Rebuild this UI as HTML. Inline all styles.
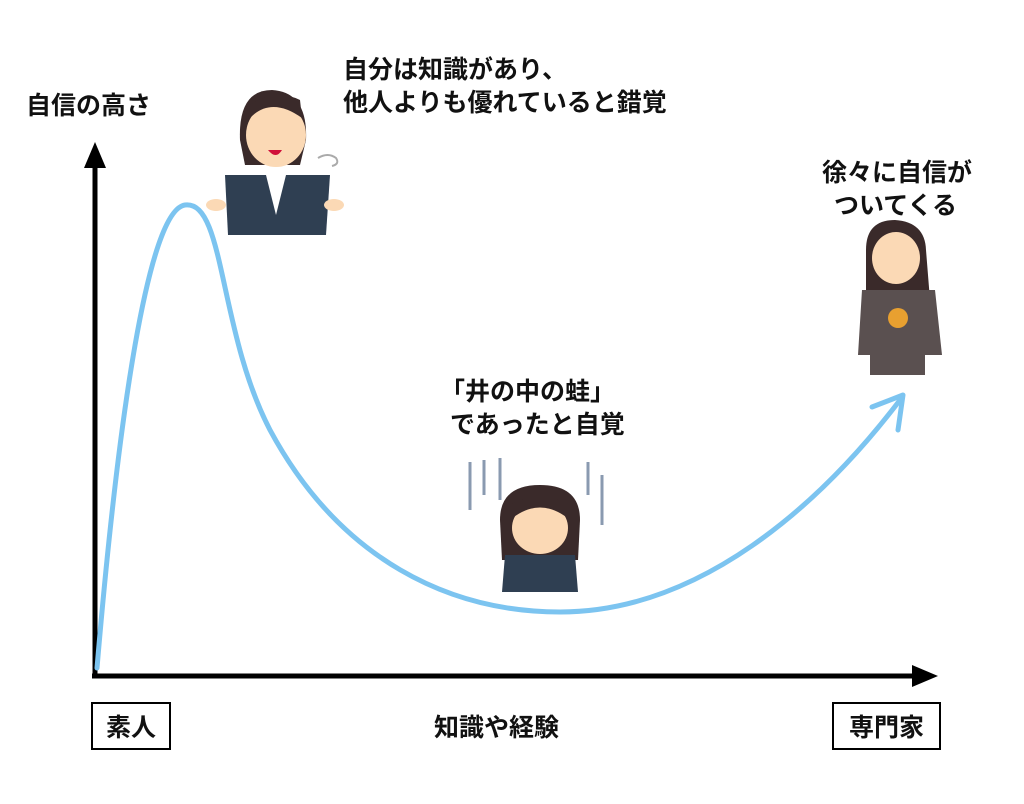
<!DOCTYPE html>
<html><head><meta charset="utf-8"><style>
body{margin:0;background:#fff;}
svg text{font-family:"Liberation Sans","Noto Sans CJK JP",sans-serif;font-weight:bold;fill:#111;}
</style></head><body>
<svg width="1024" height="799" viewBox="0 0 1024 799" xmlns="http://www.w3.org/2000/svg">
<rect width="1024" height="799" fill="#fff"/>
<line x1="95" y1="676" x2="95" y2="160" stroke="#000" stroke-width="5"/>
<polygon points="95,142 84,168 106,168" fill="#000"/>
<line x1="92" y1="676" x2="918" y2="676" stroke="#000" stroke-width="5"/>
<polygon points="938,676 912,665 912,687" fill="#000"/>
<path d="M97,668 C118,420 148,210 185,205 C225,200 218,330 270,430 C340,560 450,612 560,612 C700,612 820,505 900,400" fill="none" stroke="#7cc4f0" stroke-width="5" stroke-linecap="round"/>
<path d="M872,407 L903,395 L898,430" fill="none" stroke="#7cc4f0" stroke-width="5" stroke-linecap="round" stroke-linejoin="round"/>
<text x="26" y="114" font-size="25">自信の高さ</text>
<text x="343" y="78" font-size="25">自分は知識があり、</text>
<text x="343" y="111" font-size="25">他人よりも優れていると錯覚</text>
<text x="822" y="181" font-size="25">徐々に自信が</text>
<text x="834" y="214" font-size="25">ついてくる</text>
<text x="440" y="400" font-size="25">「井の中の蛙」</text>
<text x="450" y="433" font-size="25">であったと自覚</text>
<text x="434" y="736" font-size="25">知識や経験</text>
<rect x="92" y="703" width="78" height="46" fill="#fff" stroke="#000" stroke-width="2"/>
<text x="106" y="736" font-size="25">素人</text>
<rect x="833" y="703" width="107" height="46" fill="#fff" stroke="#000" stroke-width="2"/>
<text x="849" y="736" font-size="25">専門家</text>
<g>
<path d="M240,140 Q238,90 272,90 Q308,92 306,140 L300,165 L245,165 Z" fill="#3a2a2a"/>
<ellipse cx="276" cy="135" rx="30" ry="32" fill="#fbd9b5"/>
<path d="M248,120 Q270,95 302,118 L300,100 Q275,88 250,105 Z" fill="#3a2a2a"/>
<path d="M268,150 Q276,160 282,150 Z" fill="#d0103a"/>
<path d="M225,175 L330,175 L326,235 L228,235 Z" fill="#2f3f52"/>
<path d="M266,175 L286,175 L276,215 Z" fill="#fff"/>
<ellipse cx="216" cy="205" rx="10" ry="6" fill="#fbd9b5"/>
<ellipse cx="334" cy="205" rx="10" ry="6" fill="#fbd9b5"/>
<path d="M318,158 q10,-6 18,0 q4,6 -4,8" fill="none" stroke="#aaa" stroke-width="2"/>
</g>
<g>
<path d="M866,250 Q866,220 895,220 Q925,222 926,250 L930,300 L866,300 Z" fill="#3a2a2a"/>
<ellipse cx="896" cy="258" rx="24" ry="26" fill="#fbd9b5"/>
<path d="M862,290 L935,290 L942,355 L925,355 L925,375 L870,375 L870,355 L858,355 Z" fill="#5a5050"/>
<circle cx="898" cy="318" r="10" fill="#e8a030"/>
</g>
<g>
<path d="M500,520 Q500,485 540,485 Q580,485 580,520 L578,560 L502,560 Z" fill="#3a2a2a"/>
<ellipse cx="540" cy="528" rx="28" ry="26" fill="#fbd9b5"/>
<path d="M510,520 Q540,495 570,520 L570,505 Q540,488 510,505 Z" fill="#3a2a2a"/>
<path d="M505,555 L575,555 L578,592 L502,592 Z" fill="#2f3f52"/>
<line x1="470" y1="462" x2="470" y2="510" stroke="#8a9ab0" stroke-width="3"/>
<line x1="484" y1="460" x2="484" y2="495" stroke="#8a9ab0" stroke-width="3"/>
<line x1="500" y1="458" x2="500" y2="500" stroke="#8a9ab0" stroke-width="3"/>
<line x1="588" y1="462" x2="588" y2="495" stroke="#8a9ab0" stroke-width="3"/>
<line x1="602" y1="475" x2="602" y2="525" stroke="#8a9ab0" stroke-width="3"/>
</g>
</svg>
</body></html>
